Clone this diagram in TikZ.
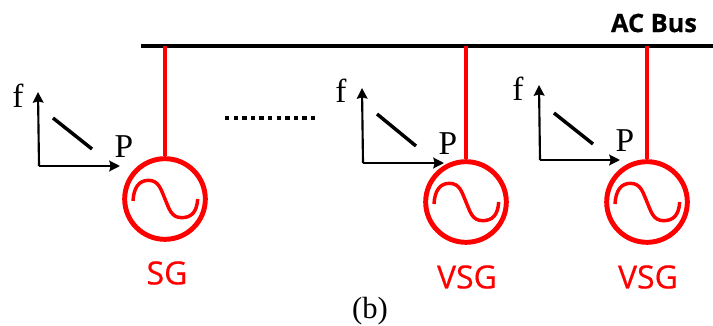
\documentclass[tikz,border=0pt]{standalone}
\usepackage{fontspec}
\setmainfont{Liberation Serif}
\newfontfamily\labelfont[FakeBold=0.5]{Open Sans}
\usetikzlibrary{arrows.meta,positioning}

\begin{document}
\begin{tikzpicture}[
    x=0.75pt, y=-0.75pt,
    node distance=1cm,
    gen/.style={circle, draw=red, line width=3.7pt, minimum size=60.5pt, inner sep=0pt},
    stem/.style={red, line width=3.2pt},
    wave/.style={red, line width=2.6pt},
    bus/.style={line width=3.4pt},
    axis/.style={-{Stealth[length=8pt,width=8pt,inset=1pt]}, line width=1.6pt},
    droop/.style={line width=2.6pt},
    dots/.style={line width=3.3pt, dash pattern=on 3.3pt off 3.15pt},
    label/.style={font=\labelfont\fontsize{24}{26}\selectfont, text=red, inner sep=0pt},
    axlabel/.style={font=\fontsize{25}{27}\selectfont, inner sep=0pt}
]
\useasboundingbox (0,0) rectangle (713,325);

% AC bus
\coordinate (busl) at (141,46);
\coordinate (busr) at (713,46);
\draw[bus] (busl) -- (busr);
\node[font=\labelfont\bfseries\fontsize{19}{21}\selectfont, inner sep=0pt] (buslabel) at (654,23) {AC Bus};

% Generators
\node[gen] (sg) at (165,199) {};
\node[gen] (vsga) at (466,202) {};
\node[gen] (vsgb) at (647,202) {};

% Stems and sine waves
\foreach \g in {sg,vsga,vsgb} {
    \draw[stem] (\g.north) -- (\g.north |- busl);
    \draw[wave] ([xshift=-24pt,yshift=-1.5pt]\g.center)
        .. controls +(0.5pt,10pt) and +(-7pt,0pt) .. ([xshift=-12.5pt,yshift=14pt]\g.center)
        .. controls +(8pt,0pt) and +(-3pt,7pt) .. (\g.center)
        .. controls +(3pt,-7pt) and +(-8pt,0pt) .. ([xshift=12.5pt,yshift=-14pt]\g.center)
        .. controls +(7pt,0pt) and +(-0.5pt,-10pt) .. ([xshift=24.5pt,yshift=0pt]\g.center);
}

% Generator labels
\node[label] (sglabel) at (167,273) {SG};
\node[label] (vsgalabel) at (467,277) {VSG};
\node[label] (vsgblabel) at (648,277) {VSG};

% Droop curve axes
\coordinate (oa) at (39,166);
\coordinate (ta) at (38,92);
\coordinate (ra) at (120,166);
\draw[axis] (oa) -- (ta);
\draw[axis] (oa) -- (ra);
\coordinate (da) at (53,118);
\coordinate (ea) at (92,149);
\draw[droop] (da) -- (ea);
\node[axlabel] (fa) at (18,96) {f};
\node[axlabel] (pa) at (124,147) {P};

\coordinate (ob) at (363,163);
\coordinate (tb) at (362,88);
\coordinate (rb) at (444,163);
\draw[axis] (ob) -- (tb);
\draw[axis] (ob) -- (rb);
\coordinate (db) at (377,114);
\coordinate (eb) at (416,146);
\draw[droop] (db) -- (eb);
\node[axlabel] (fb) at (341,91) {f};
\node[axlabel] (pb) at (448,144) {P};

\coordinate (oc) at (540,160);
\coordinate (tc) at (539,85);
\coordinate (rc) at (620,160);
\draw[axis] (oc) -- (tc);
\draw[axis] (oc) -- (rc);
\coordinate (dc) at (554,113);
\coordinate (ec) at (593,144);
\draw[droop] (dc) -- (ec);
\node[axlabel] (fc) at (518,89) {f};
\node[axlabel] (pc) at (625,141) {P};

% Dots between generators
\coordinate (dotl) at (225,118);
\coordinate (dotr) at (316,118);
\draw[dots] (dotl) -- (dotr);

% Caption
\node[font=\fontsize{23}{25}\selectfont, inner sep=0pt] (caption) at (370,311) {(b)};

\end{tikzpicture}
\end{document}
